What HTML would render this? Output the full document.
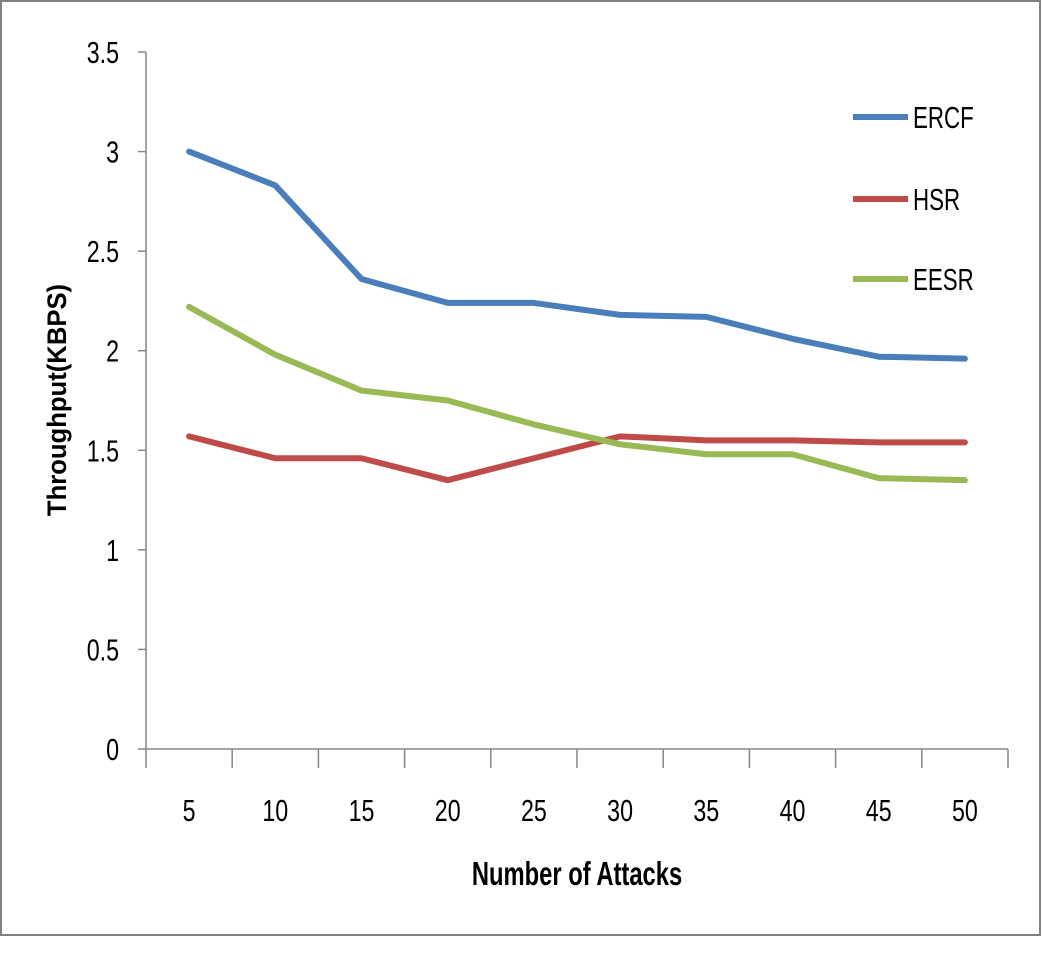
<!DOCTYPE html>
<html><head><meta charset="utf-8"><style>
html,body{margin:0;padding:0;background:#fff;}
svg{display:block;font-family:"Liberation Sans",sans-serif;}
</style></head><body>
<svg id="chart" width="1042" height="956">
<rect x="1" y="1" width="1039" height="934" fill="#fff" stroke="#808080" stroke-width="2"/>
<g id="axes"></g><g id="series"></g>
<text transform="translate(66,400) rotate(-90) scale(0.95,1)" text-anchor="middle" font-size="27" font-weight="bold">Throughput(KBPS)</text>
<text transform="translate(577,885) scale(0.72,1)" text-anchor="middle" font-size="33" font-weight="bold">Number of Attacks</text>
</svg>
<script>
const categories=[5,10,15,20,25,30,35,40,45,50];
const yTicks=[0,0.5,1,1.5,2,2.5,3,3.5];
const seriesNames=["ERCF","HSR","EESR"];
const ercf=[3.0,2.83,2.36,2.24,2.24,2.18,2.17,2.06,1.97,1.96];
const hsr=[1.57,1.46,1.46,1.35,1.46,1.57,1.55,1.55,1.54,1.54];
const eesr=[2.22,1.98,1.80,1.75,1.63,1.53,1.48,1.48,1.36,1.35];
const ns="http://www.w3.org/2000/svg";
const X0=146,X1=1008,Y0=749,Y1=52,YMAX=3.5;
const bw=(X1-X0)/categories.length;
const xs=i=>X0+bw*(i+0.5);
const ys=v=>Y0-(v/YMAX)*(Y0-Y1);
function mk(t,a,p){const e=document.createElementNS(ns,t);for(const k in a)e.setAttribute(k,a[k]);p.appendChild(e);return e;}
const axes=document.getElementById('axes');
let l=mk('line',{x1:X0,y1:Y1,x2:X0,y2:Y0,stroke:'#868686','stroke-width':1.5},axes);


l=mk('line',{x1:X0,y1:Y0,x2:X1,y2:Y0,stroke:'#868686','stroke-width':1.5},axes);


yTicks.forEach(v=>{
 const y=ys(v);
 const tk=mk('line',{x1:X0-8,y1:y,x2:X0,y2:y,stroke:'#868686','stroke-width':1.5},axes);
 
 
 const t=mk('text',{x:0,y:0,'font-size':31,'text-anchor':'end',transform:`translate(119,${y+11}) scale(0.75,1)`},axes);
 t.textContent=String(v);
 
 
});
for(let i=0;i<=categories.length;i++){
 const x=X0+bw*i;
 const tk=mk('line',{x1:x,y1:Y0,x2:x,y2:Y0+19,stroke:'#868686','stroke-width':1.5},axes);
 
 
}
categories.forEach((c,i)=>{
 const t=mk('text',{x:0,y:0,'font-size':31,'text-anchor':'middle',transform:`translate(${xs(i)},821) scale(0.75,1)`},axes);
 t.textContent=String(c);
 
 
});
const sg=document.getElementById('series');
const data=[ercf,hsr,eesr];
const colors=["#4a7ebb","#be4b48","#98b954"];
const legY=[117,199,279];
data.forEach((arr,si)=>{
 const p=mk('polyline',{points:arr.map((v,i)=>xs(i)+','+ys(v)).join(' '),fill:'none',stroke:colors[si],'stroke-width':6,'stroke-linejoin':'round','stroke-linecap':'round'},sg);
 
 
 const ll=mk('line',{x1:853,y1:legY[si],x2:908,y2:legY[si],stroke:colors[si],'stroke-width':6},sg);
 
 
 const t=mk('text',{x:0,y:0,'font-size':31,transform:`translate(913,${legY[si]+11}) scale(0.72,1)`},sg);
 t.textContent=seriesNames[si];
 
 
});
</script>
</body></html>
